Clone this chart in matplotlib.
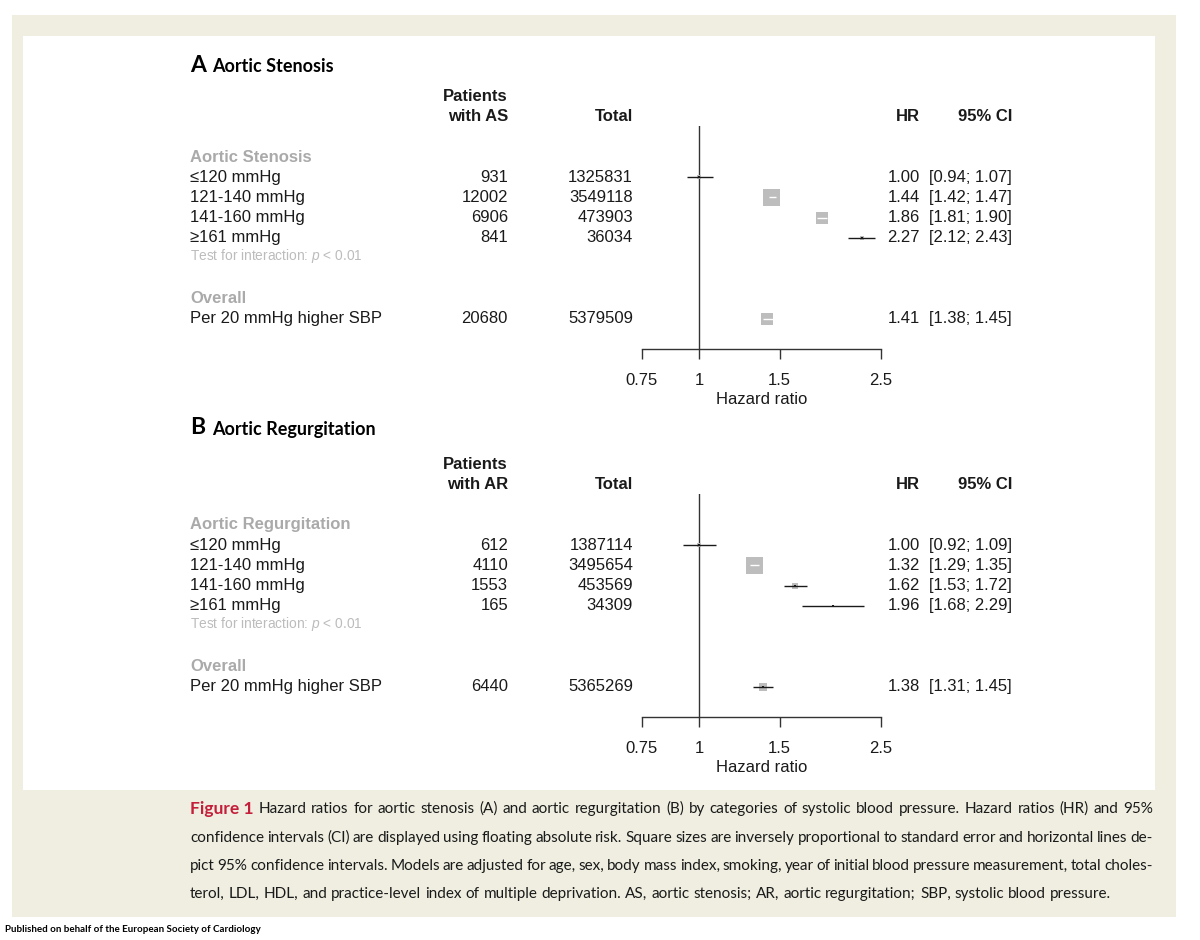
import math

import matplotlib
matplotlib.use("Agg")
import matplotlib.pyplot as plt
from matplotlib.patches import Rectangle
from matplotlib.ticker import FixedLocator, NullLocator
from matplotlib.transforms import blended_transform_factory

W, H, DPI = 1200, 940, 100
STEP = 20.22  # px between table rows

# ---- data (last element of each list = "Per 20 mmHg higher SBP") ----
ROW_LABELS = ["\u2264120 mmHg", "121-140 mmHg", "141-160 mmHg", "\u2265161 mmHg",
              "Per 20 mmHg higher SBP"]
TICKS = [0.75, 1, 1.5, 2.5]
TICK_LABELS = ["0.75", "1", "1.5", "2.5"]

AS_CASES = [931, 12002, 6906, 841, 20680]
AS_TOTAL = [1325831, 3549118, 473903, 36034, 5379509]
AS_HR = [1.00, 1.44, 1.86, 2.27, 1.41]
AS_LO = [0.94, 1.42, 1.81, 2.12, 1.38]
AS_HI = [1.07, 1.47, 1.90, 2.43, 1.45]

AR_CASES = [612, 4110, 1553, 165, 6440]
AR_TOTAL = [1387114, 3495654, 453569, 34309, 5365269]
AR_HR = [1.00, 1.32, 1.62, 1.96, 1.38]
AR_LO = [0.92, 1.29, 1.53, 1.68, 1.31]
AR_HI = [1.09, 1.35, 1.72, 2.29, 1.45]

CAPTION = [
    "Hazard ratios for aortic stenosis (A) and aortic regurgitation (B) by categories of systolic blood pressure. Hazard ratios (HR) and 95%",
    "confidence intervals (CI) are displayed using floating absolute risk. Square sizes are inversely proportional to standard error and horizontal lines de-",
    "pict 95% confidence intervals. Models are adjusted for age, sex, body mass index, smoking, year of initial blood pressure measurement, total choles-",
    "terol, LDL, HDL, and practice-level index of multiple deprivation. AS, aortic stenosis; AR, aortic regurgitation; SBP, systolic blood pressure.",
]

INK = "#1a1a1a"
AXIS = "#333333"
GREY_HEAD = "#aaaaaa"
GREY_NOTE = "#bcbcbc"
SQUARE = "#bdbdbd"
FRAME = "#efeee0"
RED = "#c41e3a"
TABLE_FONT = "Liberation Sans"
CAPTION_FONT = "Lato"

plt.rcParams.update({
    "font.family": TABLE_FONT,
    "mathtext.fontset": "custom",
    "mathtext.rm": "Liberation Sans",
    "mathtext.it": "Liberation Sans:italic",
})


def fy(py):
    return 1 - py / H


def draw_panel(fig, header_px, title_px, letter, name, abbr, cases, total, hr, lo, hi):
    top = header_px - 1.55 * STEP
    bottom = header_px + 9.48 * STEP
    ax = fig.add_axes([642 / W, fy(bottom), (881 - 642) / W, (bottom - top) / H])
    ax.set_xscale("log")
    ax.set_xlim(0.75, 2.5)
    ax.set_ylim(9.48, -1.55)
    ax.patch.set_alpha(0)
    for s in ("top", "left", "right"):
        ax.spines[s].set_visible(False)
    ax.spines["bottom"].set_color(AXIS)
    ax.spines["bottom"].set_linewidth(1.0)
    ax.xaxis.set_major_locator(FixedLocator(TICKS))
    ax.xaxis.set_minor_locator(NullLocator())
    ax.set_xticklabels(TICK_LABELS)
    ax.tick_params(axis="x", direction="out", length=7.5, width=1.0, color=AXIS,
                   labelsize=12, labelcolor=INK, pad=10)
    ax.set_yticks([])
    ax.set_xlabel("Hazard ratio", fontsize=12, color=INK, labelpad=3)
    ax.axvline(1, color=AXIS, lw=1.0, zorder=1)

    # square side ~ 1/SE, SE taken from the CI on the log scale
    ys = [1, 2, 3, 4, 8]
    inv_se = [3.92 / (math.log(u) - math.log(l)) for l, u in zip(lo, hi)]
    big = max(inv_se)
    for y, h, l, u, w in zip(ys, hr, lo, hi, inv_se):
        side_px = 17.0 * w / big
        x0, x1 = ax.transData.transform([(l, y), (u, y)])[:, 0]
        inside = (x1 - x0) <= side_px
        ax.scatter([h], [y], marker="s", s=(side_px * 72 / DPI) ** 2, color=SQUARE,
                   linewidths=0, zorder=3, clip_on=False)
        ax.plot([l, u], [y, y], color="white" if inside else INK, lw=1.0, zorder=4,
                clip_on=False, solid_capstyle="butt")
        if not inside:
            ax.scatter([h], [y], marker="s", s=2.2, color=INK, linewidths=0, zorder=5,
                       clip_on=False)

    tr = blended_transform_factory(fig.transFigure, ax.transData)
    kw = dict(transform=tr, fontsize=12, color=INK, va="center")
    # column headers
    ax.text(508 / W, -3.0, "Patients", ha="right", fontweight="bold", **kw)
    ax.text(508 / W, -2.0, f"with {abbr}", ha="right", fontweight="bold", **kw)
    ax.text(633 / W, -2.0, "Total", ha="right", fontweight="bold", **kw)
    ax.text(920 / W, -2.0, "HR", ha="right", fontweight="bold", **kw)
    ax.text(1012 / W, -2.0, "95% CI", ha="right", fontweight="bold", **kw)
    # group headers
    kg = dict(kw, color=GREY_HEAD)
    ax.text(190 / W, 0, name, ha="left", fontweight="bold", **kg)
    ax.text(190 / W, 7, "Overall", ha="left", fontweight="bold", **kg)
    ax.text(190 / W, 4.88, r"Test for interaction: $p$ < 0.01", ha="left", transform=tr,
            fontsize=9.9, color=GREY_NOTE, va="center")
    for y, lab, c, t, h, l, u in zip(ys, ROW_LABELS, cases, total, hr, lo, hi):
        ax.text(190 / W, y, lab, ha="left", **kw)
        ax.text(508 / W, y, f"{c}", ha="right", **kw)
        ax.text(633 / W, y, f"{t}", ha="right", **kw)
        ax.text(920 / W, y, f"{h:.2f}", ha="right", **kw)
        ax.text(1012 / W, y, f"[{l:.2f}; {u:.2f}]", ha="right", **kw)

    fig.text(190 / W, fy(title_px), letter, fontsize=16.5, fontweight="bold", color="black",
             family=CAPTION_FONT, va="center")
    fig.text(212 / W, fy(title_px + 1), name, fontsize=13, fontweight="bold", color="black",
             family=CAPTION_FONT, va="center")
    return ax


def text_width(fig, renderer, s, **style):
    t = fig.text(0, 0, s, **style)
    w = t.get_window_extent(renderer).width
    t.remove()
    return w


def justify_line(fig, renderer, pieces, x0, x1, ypx, justify=True):
    """pieces: list of (word, style dict). Spreads words between x0 and x1 (px)."""
    texts = [fig.text(0, fy(ypx), w, va="center", ha="left", **st) for w, st in pieces]
    widths = [t.get_window_extent(renderer).width for t in texts]
    if justify:
        gap = (x1 - x0 - sum(widths)) / (len(texts) - 1)
    else:
        gap = texts[-1].get_fontsize() * DPI / 72 * 0.26
    x = x0
    for t, w in zip(texts, widths):
        t.set_x(x / W)
        x += w + gap


fig = plt.figure(figsize=(W / DPI, H / DPI), dpi=DPI)
fig.patch.set_facecolor("white")
fig.add_artist(Rectangle((12 / W, fy(917)), (1176 - 12) / W, (917 - 15) / H,
                         transform=fig.transFigure, facecolor=FRAME, edgecolor="none", zorder=0))
fig.add_artist(Rectangle((23 / W, fy(790)), (1155 - 23) / W, (790 - 36) / H,
                         transform=fig.transFigure, facecolor="white", edgecolor="none", zorder=0))

draw_panel(fig, 157, 66, "A", "Aortic Stenosis", "AS", AS_CASES, AS_TOTAL, AS_HR, AS_LO, AS_HI)
draw_panel(fig, 525, 428, "B", "Aortic Regurgitation", "AR", AR_CASES, AR_TOTAL, AR_HR, AR_LO, AR_HI)

renderer = fig.canvas.get_renderer()
# fit the caption size so the widest justified line just fits the column
x_left, x_right = 190, 1153
widest = max(text_width(fig, renderer, ln, family=CAPTION_FONT, fontsize=10) for ln in CAPTION[1:3])
cap_size = 10 * (x_right - x_left) / widest * 1.03
cap = dict(family=CAPTION_FONT, fontsize=cap_size, color=INK)
caption_y = [809, 838, 866, 894]
for i, (line, ypx) in enumerate(zip(CAPTION, caption_y)):
    pieces = [(w, cap) for w in line.split(" ")]
    if i == 0:
        pieces = [("Figure 1", dict(family=CAPTION_FONT, fontsize=12.5, fontweight="bold",
                                    color=RED))] + pieces
    justify_line(fig, renderer, pieces, x_left, x_right, ypx, justify=i < len(CAPTION) - 1)

fig.text(5 / W, fy(930), "Published on behalf of the European Society of Cardiology",
         family=CAPTION_FONT, fontsize=7.0, fontweight="bold", color="black", va="center")

fig.savefig("out.png", dpi=DPI)
